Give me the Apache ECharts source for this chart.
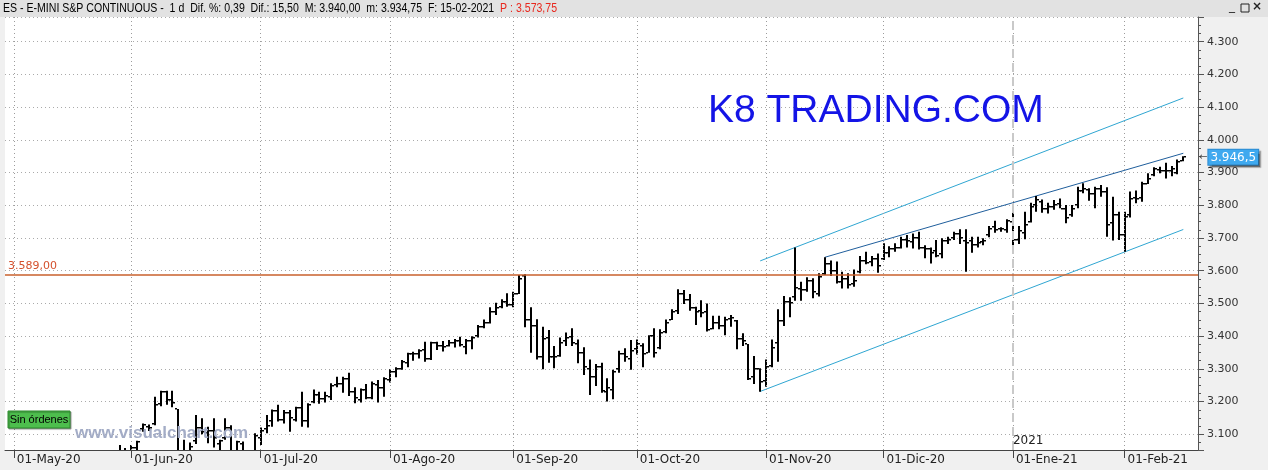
<!DOCTYPE html>
<html><head><meta charset="utf-8">
<script src="https://cdn.jsdelivr.net/npm/echarts@6/dist/echarts.min.js"></script>
<style>html,body{margin:0;padding:0;background:#f0f0f0}#c{width:1268px;height:470px}</style>
</head><body><div id="c"></div>
<script>
// ---------- DATA ----------
const dates = [
 '2020-05-01','2020-05-04','2020-05-05','2020-05-06','2020-05-07','2020-05-08','2020-05-11','2020-05-12','2020-05-13','2020-05-14','2020-05-15','2020-05-18','2020-05-19','2020-05-20','2020-05-21','2020-05-22','2020-05-26','2020-05-27','2020-05-28','2020-05-29',
 '2020-06-01','2020-06-02','2020-06-03','2020-06-04','2020-06-05','2020-06-08','2020-06-09','2020-06-10','2020-06-11','2020-06-12','2020-06-15','2020-06-16','2020-06-17','2020-06-18','2020-06-19','2020-06-22','2020-06-23','2020-06-24','2020-06-25','2020-06-26','2020-06-29','2020-06-30',
 '2020-07-01','2020-07-02','2020-07-06','2020-07-07','2020-07-08','2020-07-09','2020-07-10','2020-07-13','2020-07-14','2020-07-15','2020-07-16','2020-07-17','2020-07-20','2020-07-21','2020-07-22','2020-07-23','2020-07-24','2020-07-27','2020-07-28','2020-07-29','2020-07-30','2020-07-31',
 '2020-08-03','2020-08-04','2020-08-05','2020-08-06','2020-08-07','2020-08-10','2020-08-11','2020-08-12','2020-08-13','2020-08-14','2020-08-17','2020-08-18','2020-08-19','2020-08-20','2020-08-21','2020-08-24','2020-08-25','2020-08-26','2020-08-27','2020-08-28','2020-08-31',
 '2020-09-01','2020-09-02','2020-09-03','2020-09-04','2020-09-08','2020-09-09','2020-09-10','2020-09-11','2020-09-14','2020-09-15','2020-09-16','2020-09-17','2020-09-18','2020-09-21','2020-09-22','2020-09-23','2020-09-24','2020-09-25','2020-09-28','2020-09-29','2020-09-30',
 '2020-10-01','2020-10-02','2020-10-05','2020-10-06','2020-10-07','2020-10-08','2020-10-09','2020-10-12','2020-10-13','2020-10-14','2020-10-15','2020-10-16','2020-10-19','2020-10-20','2020-10-21','2020-10-22','2020-10-23','2020-10-26','2020-10-27','2020-10-28','2020-10-29','2020-10-30',
 '2020-11-02','2020-11-03','2020-11-04','2020-11-05','2020-11-06','2020-11-09','2020-11-10','2020-11-11','2020-11-12','2020-11-13','2020-11-16','2020-11-17','2020-11-18','2020-11-19','2020-11-20','2020-11-23','2020-11-24','2020-11-25','2020-11-27','2020-11-30',
 '2020-12-01','2020-12-02','2020-12-03','2020-12-04','2020-12-07','2020-12-08','2020-12-09','2020-12-10','2020-12-11','2020-12-14','2020-12-15','2020-12-16','2020-12-17','2020-12-18','2020-12-21','2020-12-22','2020-12-23','2020-12-24','2020-12-28','2020-12-29','2020-12-30','2020-12-31',
 '2021-01-04','2021-01-05','2021-01-06','2021-01-07','2021-01-08','2021-01-11','2021-01-12','2021-01-13','2021-01-14','2021-01-15','2021-01-19','2021-01-20','2021-01-21','2021-01-22','2021-01-25','2021-01-26','2021-01-27','2021-01-28','2021-01-29',
 '2021-02-01','2021-02-02','2021-02-03','2021-02-04','2021-02-05','2021-02-08','2021-02-09','2021-02-10','2021-02-11','2021-02-12','2021-02-15'
];
const opens = [
 2870,2815,2840,2865,2850,2878,2920,2928,2868,2815,2840,2870,2950,2925,2970,2945,2960,2990,3030,3025,
 3045,3058,3115,3122,3130,3192,3228,3205,3177,3005,3030,3080,3118,3105,3110,3070,3090,3120,3040,3070,3000,3045,
 3090,3115,3140,3170,3145,3165,3145,3180,3140,3200,3220,3208,3215,3250,3255,3270,3230,3205,3235,3212,3250,3240,
 3265,3290,3300,3318,3345,3345,3358,3330,3378,3370,3370,3380,3385,3368,3385,3400,3428,3440,3475,3488,3505,
 3495,3528,3584,3450,3430,3335,3395,3335,3340,3385,3398,3375,3350,3300,3275,3305,3230,3235,3300,3345,3330,
 3360,3370,3350,3400,3365,3412,3450,3478,3530,3510,3485,3478,3475,3421,3440,3430,3452,3445,3390,3376,3275,3300,
 3262,3310,3380,3445,3505,3520,3545,3540,3570,3530,3590,3620,3600,3565,3575,3560,3595,3630,3628,3635,
 3635,3655,3665,3670,3695,3688,3700,3668,3665,3660,3650,3690,3700,3712,3690,3690,3680,3688,3710,3735,3728,3725,
 3750,3695,3715,3750,3800,3810,3790,3795,3805,3788,3770,3800,3845,3848,3835,3850,3840,3745,3770,
 3710,3770,3822,3822,3866,3892,3908,3906,3905,3900,3936
];
const highs = [
 2874,2843,2895,2890,2890,2930,2940,2945,2875,2848,2862,2962,2965,2978,2980,2955,3020,3035,3067,3058,
 3067,3080,3133,3130,3215,3233,3233,3233,3177,3083,3075,3159,3149,3123,3149,3083,3149,3128,3080,3078,3050,3103,
 3121,3159,3176,3190,3174,3174,3184,3230,3195,3237,3230,3230,3256,3276,3276,3288,3244,3240,3254,3261,3266,3274,
 3299,3305,3327,3349,3352,3360,3383,3383,3383,3385,3388,3391,3398,3391,3400,3434,3451,3488,3502,3513,3531,
 3536,3587,3589,3488,3452,3429,3419,3370,3396,3411,3424,3390,3366,3329,3315,3319,3271,3297,3355,3363,3388,
 3390,3378,3403,3424,3421,3451,3482,3543,3541,3529,3490,3510,3500,3462,3462,3459,3465,3449,3409,3376,3339,3302,
 3329,3390,3482,3523,3519,3671,3566,3580,3577,3592,3641,3631,3628,3597,3592,3604,3645,3658,3645,3653,
 3684,3675,3684,3704,3709,3714,3719,3678,3671,3694,3699,3704,3719,3727,3727,3704,3704,3699,3737,3753,3733,3757,
 3777,3737,3780,3808,3828,3818,3808,3816,3821,3801,3801,3857,3867,3852,3857,3862,3855,3826,3780,
 3780,3842,3845,3872,3898,3916,3918,3930,3920,3940,3950
];
const lows = [
 2816,2794,2835,2840,2845,2875,2897,2865,2790,2760,2810,2865,2915,2920,2935,2925,2955,2965,3015,2995,
 3025,3045,3108,3110,3128,3186,3190,3183,2990,2935,2935,3070,3100,3073,3060,3045,3083,3020,3010,2990,2985,3030,
 3067,3103,3123,3139,3133,3108,3139,3123,3121,3195,3193,3197,3205,3244,3227,3217,3195,3197,3207,3207,3197,3215,
 3258,3274,3297,3305,3325,3332,3322,3327,3358,3353,3368,3365,3368,3345,3360,3396,3424,3439,3465,3485,3490,
 3488,3529,3427,3349,3329,3299,3319,3302,3337,3370,3370,3317,3281,3220,3248,3227,3200,3207,3288,3322,3297,
 3344,3305,3349,3335,3360,3409,3449,3468,3498,3478,3434,3458,3414,3421,3421,3403,3429,3360,3370,3266,3254,3230,
 3245,3305,3322,3431,3458,3508,3508,3536,3516,3521,3587,3584,3561,3546,3546,3551,3592,3620,3614,3594,
 3633,3641,3658,3668,3671,3668,3665,3638,3622,3641,3638,3682,3694,3682,3597,3655,3671,3678,3702,3716,3719,3716,
 3655,3682,3696,3747,3780,3777,3775,3786,3791,3745,3765,3791,3837,3814,3791,3826,3704,3692,3694,
 3658,3763,3806,3811,3865,3889,3898,3882,3889,3895,3934.75
];
const closes = [
 2826,2838,2863,2845,2876,2925,2926,2868,2815,2845,2857,2950,2920,2968,2945,2950,2985,3030,3025,3048,
 3058,3076,3128,3120,3190,3228,3205,3195,3000,3035,3060,3118,3108,3110,3088,3080,3120,3040,3075,3000,3045,3095,
 3110,3125,3170,3145,3165,3150,3180,3140,3190,3220,3208,3218,3248,3255,3270,3230,3210,3235,3212,3255,3240,3268,
 3290,3300,3320,3345,3345,3355,3330,3378,3370,3368,3380,3385,3372,3385,3395,3428,3440,3475,3485,3505,3495,
 3530,3575,3448,3430,3335,3392,3335,3335,3380,3395,3378,3350,3305,3275,3305,3232,3240,3290,3345,3335,3355,
 3375,3345,3400,3350,3410,3440,3475,3530,3510,3485,3475,3470,3420,3440,3430,3450,3455,3390,3385,3270,3300,3260,
 3305,3365,3445,3505,3500,3548,3540,3570,3535,3580,3622,3600,3565,3575,3555,3570,3630,3625,3635,3615,
 3655,3665,3670,3695,3690,3700,3670,3665,3655,3645,3690,3695,3712,3700,3685,3680,3685,3692,3728,3725,3728,3752,
 3695,3722,3740,3795,3815,3790,3795,3802,3790,3760,3790,3845,3850,3835,3850,3840,3740,3770,3710,
 3765,3820,3820,3865,3880,3910,3905,3905,3912,3931,3946.5
];
const tickDates  = ['2020-05-01','2020-06-01','2020-07-01','2020-08-03','2020-09-01','2020-10-01','2020-11-02','2020-12-01','2021-01-04','2021-02-01'];
const tickLabels = ['01-May-20','01-Jun-20','01-Jul-20','01-Ago-20','01-Sep-20','01-Oct-20','01-Nov-20','01-Dic-20','01-Ene-21','01-Feb-21'];
const channelUpper = [['2020-10-30', 3630], ['2021-02-15', 4128]];
const channelMid   = [['2020-11-16', 3641], ['2021-02-15', 3959]];
const channelLower = [['2020-10-30', 3231], ['2021-02-15', 3726]];
const resistance = 3589;
const lastPrice = 3946.5;
const lastPriceText = '3.946,5';
const yearStart = '2021-01-04';
const headerMain = 'ES - E-MINI S&P CONTINUOUS -  1 d  Dif. %: 0,39  Dif.: 15,50  M: 3.940,00  m: 3.934,75  F: 15-02-2021  ';
const headerPrice = 'P : 3.573,75';

// ---------- CHART ----------
const cats = ['_p0'].concat(dates, ['_p1', '_p2']);
const ohlc = dates.map((d, i) => [d, opens[i], highs[i], lows[i], closes[i]]);
const fmtThousands = v => String(Math.round(v)).replace(/\B(?=(\d{3})+(?!\d))/g, '.');
const fmtEs = v => {
  const parts = v.toFixed(2).split('.');
  return parts[0].replace(/\B(?=(\d{3})+(?!\d))/g, '.') + ',' + parts[1];
};
const isTick = (i, v) => tickDates.indexOf(v) >= 0;

function renderOHLC(params, api) {
  const xi = api.value(0);
  const pO = api.coord([xi, api.value(1)]);
  const pH = api.coord([xi, api.value(2)]);
  const pL = api.coord([xi, api.value(3)]);
  const pC = api.coord([xi, api.value(4)]);
  const x = Math.round(pO[0]);
  return {
    type: 'group',
    children: [
      {type: 'rect', shape: {x: x - 1, y: pH[1], width: 2, height: Math.max(1, pL[1] - pH[1])}, style: {fill: '#000'}},
      {type: 'rect', shape: {x: x - 3, y: Math.round(pO[1]) - 1, width: 2, height: 1.5}, style: {fill: '#000'}},
      {type: 'rect', shape: {x: x + 1, y: Math.round(pC[1]) - 1, width: 2, height: 1.5}, style: {fill: '#000'}}
    ]
  };
}

const chart = echarts.init(document.getElementById('c'));
chart.setOption({
  animation: false,
  backgroundColor: '#f0f0f0',
  grid: {left: 5, right: 70, top: 17, bottom: 20, show: true, backgroundColor: '#ffffff', borderWidth: 0},
  xAxis: {
    type: 'category', data: cats, boundaryGap: true,
    axisLine: {show: true, lineStyle: {color: '#444', width: 1}},
    axisTick: {show: true, interval: isTick, alignWithLabel: true, length: 8, lineStyle: {color: '#444'}},
    axisLabel: {
      show: true, interval: isTick, align: 'left', margin: 4, padding: [0, 0, 0, 3],
      formatter: v => tickLabels[tickDates.indexOf(v)] || '',
      color: '#222', fontFamily: 'DejaVu Sans', fontSize: 12
    },
    splitLine: {show: false}
  },
  yAxis: {
    type: 'value', position: 'right', min: 3052, max: 4375.5, splitNumber: 13,
    axisLine: {show: true, lineStyle: {color: '#555'}},
    axisTick: {show: true, length: 6, lineStyle: {color: '#555'}},
    minorTick: {show: true, splitNumber: 4, length: 3, lineStyle: {color: '#555'}},
    axisLabel: {formatter: fmtThousands, showMinLabel: false, showMaxLabel: false, color: '#333', fontFamily: 'DejaVu Sans', fontSize: 11, margin: 9},
    splitLine: {show: true, lineStyle: {color: '#aaaaaa', type: [1, 3], width: 1}}
  },
  series: [
    {
      type: 'line', data: channelUpper, symbol: 'none', z: 3,
      lineStyle: {color: '#2fa6d2', width: 1},
      markLine: {
        silent: true, symbol: 'none', animation: false,
        data: tickDates.map(d => ({xAxis: d, lineStyle: {color: '#9c9c9c', type: [1, 3], width: 1}, label: {show: false}}))
          .concat([
            {xAxis: yearStart, lineStyle: {color: '#c9c9c9', type: [9, 5], width: 2}, label: {show: false}},
            {yAxis: resistance, lineStyle: {color: '#c9602c', type: 'solid', width: 1.5},
              label: {show: true, position: 'insideStartTop', formatter: fmtEs(resistance), color: '#d4502c', fontFamily: 'DejaVu Sans', fontSize: 11, distance: 3}}
          ])
      }
    },
    {
      type: 'line', data: channelMid, symbol: 'none', z: 3, lineStyle: {color: '#1f5e9c', width: 1},
      markLine: {
        silent: true, symbol: 'none', animation: false,
        data: [{yAxis: lastPrice, lineStyle: {color: 'rgba(0,0,0,0)', width: 0},
          label: {show: true, position: 'end', distance: 1, formatter: '{a|←}{b|' + lastPriceText + '}',
            rich: {
              a: {color: '#444', fontSize: 10, fontFamily: 'DejaVu Sans', padding: [0, 1, 0, 0]},
              b: {color: '#fff', backgroundColor: '#3fa9ef', fontSize: 12, fontFamily: 'DejaVu Sans', padding: [2, 2, 1, 2], borderColor: '#2b8ad0', borderWidth: 1,
                  shadowColor: 'rgba(0,0,0,0.35)', shadowOffsetX: 2, shadowOffsetY: 2, shadowBlur: 1}
            }}}]
      }
    },
    {type: 'line', data: channelLower, symbol: 'none', z: 3, lineStyle: {color: '#2fa6d2', width: 1}},
    {
      type: 'custom', data: ohlc, renderItem: renderOHLC, clip: true, z: 4,
      encode: {x: 0, y: [1, 2, 3, 4]}
    },
    {
      type: 'line', data: [], symbol: 'none',
      markPoint: {
        symbol: 'rect', symbolSize: 0, silent: true,
        data: [{coord: [yearStart, 3079], label: {show: true, position: 'right', distance: 0, formatter: '2021', color: '#222', fontFamily: 'DejaVu Sans', fontSize: 12}}]
      }
    }
  ],
  graphic: [
    {type: 'rect', z: -1, shape: {x: 0, y: 0, width: 1268, height: 17}, style: {fill: '#e2e2e2'}},
    {type: 'text', z: 60, x: 3, y: 3, scaleX: 0.88,
      style: {text: '{a|' + headerMain + '}{b|' + headerPrice + '}', font: '12px "Liberation Sans"',
        rich: {a: {fill: '#000', font: '12px "Liberation Sans"'}, b: {fill: '#e8281e', font: '12px "Liberation Sans"'}}}},
    {type: 'text', z: 60, x: 1229, y: 1, style: {text: '_', fill: '#222', font: '12px "DejaVu Sans"'}},
    {type: 'rect', z: 60, shape: {x: 1241, y: 4, width: 8, height: 8}, style: {fill: 'none', stroke: '#222', lineWidth: 1}},
    {type: 'text', z: 60, x: 1252, y: 1, style: {text: '×', fill: '#222', font: 'bold 12px "DejaVu Sans"'}},
    {type: 'text', z: 60, x: 708, y: 92, style: {text: 'K8 TRADING.COM', fill: '#1414e6', font: '39px "Liberation Sans"'}},
    {type: 'text', z: 100, x: 75, y: 425, style: {text: 'www.visualchart.com', fill: '#a3acc6', font: 'bold 17px "Liberation Sans"'}},
    {type: 'rect', z: 100, shape: {x: 8, y: 411, width: 62, height: 17}, style: {fill: '#4dbe4d', stroke: '#2e8b2e', lineWidth: 1, shadowColor: 'rgba(0,0,0,0.35)', shadowOffsetX: 1, shadowOffsetY: 1, shadowBlur: 1}},
    {type: 'text', z: 101, x: 39, y: 419.5, style: {text: 'Sin órdenes', fill: '#000', font: '11px "Liberation Sans"', align: 'center', verticalAlign: 'middle'}}
  ]
});
</script>
</body></html>
